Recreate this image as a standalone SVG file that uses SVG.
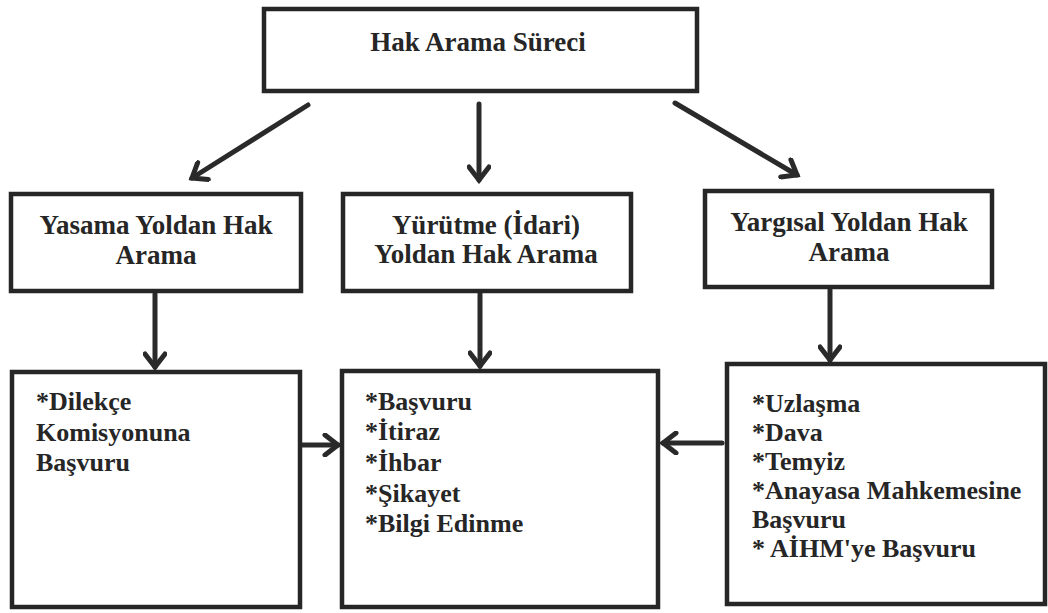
<svg xmlns="http://www.w3.org/2000/svg" width="1048" height="613" viewBox="0 0 1048 613">
<style>
.box{fill:#fff;stroke:#262626;stroke-width:4.5}
.t{font-family:"Liberation Serif","Times New Roman",serif;font-weight:bold;font-size:26px;fill:#262626}
.h{font-size:27px;text-anchor:middle}
.ln{stroke:#2a2a2a;stroke-width:5;fill:none;stroke-linecap:round}
</style>
<defs>
<marker id="ah" viewBox="0 0 20 24" markerUnits="userSpaceOnUse" markerWidth="20" markerHeight="24" refX="16" refY="12" orient="auto">
<path d="M3,2 L16,12 L3,22" fill="none" stroke="#2a2a2a" stroke-width="5" stroke-linecap="round" stroke-linejoin="miter"/>
</marker>
</defs>
<rect width="1048" height="613" fill="#fff"/>
<g id="connectors">
<line class="ln" x1="308" y1="105" x2="192" y2="178" marker-end="url(#ah)"/>
<line class="ln" x1="479" y1="104" x2="479" y2="180" marker-end="url(#ah)"/>
<line class="ln" x1="675" y1="103" x2="797" y2="175" marker-end="url(#ah)"/>
<line class="ln" x1="155" y1="294" x2="155" y2="367" marker-end="url(#ah)"/>
<line class="ln" x1="480" y1="294" x2="480" y2="366" marker-end="url(#ah)"/>
<line class="ln" x1="830" y1="290" x2="830" y2="360" marker-end="url(#ah)"/>
<line class="ln" x1="302" y1="445" x2="338" y2="445" marker-end="url(#ah)"/>
<line class="ln" x1="722" y1="443" x2="663" y2="443" marker-end="url(#ah)"/>
</g>
<g id="root">
<rect class="box" x="264" y="9" width="433" height="82"/>
<text class="t h" x="478" y="51">Hak Arama Süreci</text>
</g>
<g id="yasama">
<rect class="box" x="11" y="194" width="290" height="97"/>
<text class="t h" x="156" y="234">Yasama Yoldan Hak</text>
<text class="t h" x="156" y="264">Arama</text>
</g>
<g id="yurutme">
<rect class="box" x="343" y="194" width="288" height="97"/>
<text class="t h" x="486" y="234">Yürütme (İdari)</text>
<text class="t h" x="486" y="263">Yoldan Hak Arama</text>
</g>
<g id="yargisal">
<rect class="box" x="705" y="191" width="287" height="96"/>
<text class="t h" x="849" y="231">Yargısal Yoldan Hak</text>
<text class="t h" x="849" y="261">Arama</text>
</g>
<g id="yasama-list">
<rect class="box" x="12" y="372" width="288" height="235"/>
<text class="t" x="36" y="410">*Dilekçe</text>
<text class="t" x="36" y="441">Komisyonuna</text>
<text class="t" x="36" y="471">Başvuru</text>
</g>
<g id="yurutme-list">
<rect class="box" x="342" y="371" width="316" height="236"/>
<text class="t" x="365" y="410">*Başvuru</text>
<text class="t" x="365" y="440">*İtiraz</text>
<text class="t" x="365" y="471">*İhbar</text>
<text class="t" x="365" y="502">*Şikayet</text>
<text class="t" x="365" y="532">*Bilgi Edinme</text>
</g>
<g id="yargisal-list">
<rect class="box" x="727" y="364" width="318" height="240"/>
<text class="t" x="752" y="412">*Uzlaşma</text>
<text class="t" x="752" y="441">*Dava</text>
<text class="t" x="752" y="470">*Temyiz</text>
<text class="t" x="752" y="499">*Anayasa Mahkemesine</text>
<text class="t" x="752" y="528">Başvuru</text>
<text class="t" x="752" y="557">* AİHM'ye Başvuru</text>
</g>
</svg>
